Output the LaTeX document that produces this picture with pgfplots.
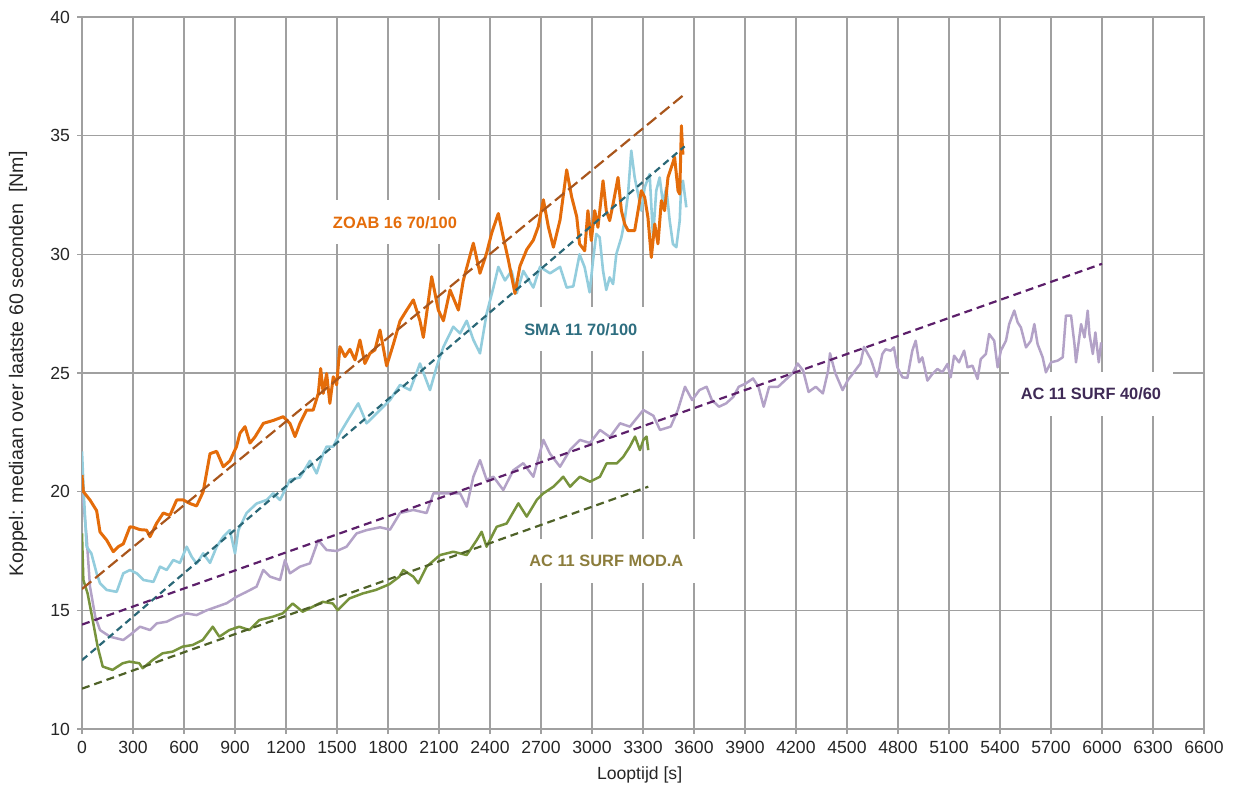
\documentclass[border=0pt]{standalone}
\usepackage{pgfplots}
\pgfplotsset{compat=1.18}
\usepackage{fontspec}
\setmainfont{Liberation Sans}
\definecolor{cZ}{HTML}{E46C0A}
\definecolor{cS}{HTML}{93CDDD}
\definecolor{cP}{HTML}{B3A2C7}
\definecolor{cG}{HTML}{77933C}
\definecolor{tZ}{HTML}{A9561C}
\definecolor{tS}{HTML}{2A6776}
\definecolor{tP}{HTML}{5C1F6A}
\definecolor{tG}{HTML}{4F6228}
\definecolor{lS}{HTML}{2E6E80}
\definecolor{lP}{HTML}{3F2A56}
\definecolor{lG}{HTML}{8C7D3C}
\definecolor{gridc}{HTML}{A0A0A0}
\begin{document}
\begin{tikzpicture}
\begin{axis}[
  scale only axis, width=561pt, height=356pt,
  xmin=0, xmax=6600, ymin=10, ymax=40,
  xtick={0,300,...,6600}, ytick={10,15,...,40},
  grid=major,
  major grid style={gridc, line width=0.6pt},
  axis line style={gridc, line width=0.6pt},
  tick style={gridc, line width=0.6pt},
  tick align=outside, major tick length=2.5pt,
  xtick pos=bottom, ytick pos=left,
  /pgf/number format/assume math mode=true,
  /pgf/number format/1000 sep={},
  ticklabel style={font=\fontsize{8.8}{10}\selectfont, text=black!85},
  xlabel={Looptijd [s]},
  ylabel={Koppel: mediaan over laatste 60 seconden\ \ [Nm]},
  xlabel style={font=\fontsize{8.8}{10}\selectfont, text=black!85, at={(axis description cs:0.497,-0.0646)}, anchor=center},
  ylabel style={font=\fontsize{9.8}{11}\selectfont, text=black!85, at={(axis description cs:-0.057,0.5126)}, anchor=center, rotate=0},
  every axis plot/.append style={line join=round},
]
% label boxes
\node[fill=white, inner xsep=6pt, inner ysep=8pt, text height=6pt, text depth=0pt, text=cZ, font=\fontsize{8.2}{10}\selectfont\bfseries] at (axis cs:1841,31.35) {ZOAB 16 70/100};
\node[fill=white, inner xsep=6pt, inner ysep=8pt, text height=6pt, text depth=0pt, text=lS, font=\fontsize{8.2}{10}\selectfont\bfseries] at (axis cs:2934,26.84) {SMA 11 70/100};
\node[fill=white, inner xsep=6pt, inner ysep=8pt, text height=6pt, text depth=0pt, text=lP, font=\fontsize{8.2}{10}\selectfont\bfseries] at (axis cs:5935,24.12) {AC 11 SURF 40/60};
\node[fill=white, inner xsep=6pt, inner ysep=8pt, text height=6pt, text depth=0pt, text=lG, font=\fontsize{8.2}{10}\selectfont\bfseries] at (axis cs:3084,17.08) {AC 11 SURF MOD.A};
% AC 11 SURF 40/60
\addplot[cP, line width=1.25pt] coordinates {
(0,20.2)(27,18.1)(47,16.0)(78,14.73)(106,14.17)(165,13.89)(243,13.75)(282,13.96)(341,14.31)(400,14.17)(439,14.45)(498,14.52)(557,14.73)(616,14.87)(674,14.8)(733,15.0)(792,15.15)(851,15.3)(909,15.57)(968,15.78)(1027,16.0)(1066,16.7)(1106,16.42)(1165,16.28)(1194,17.12)(1223,16.56)(1282,16.84)(1341,16.98)(1390,17.96)(1439,17.54)(1498,17.5)(1556,17.68)(1615,18.24)(1674,18.38)(1753,18.5)(1812,18.4)(1871,19.1)(1949,19.23)(2027,19.1)(2067,19.93)(2145,19.93)(2224,19.93)(2263,19.37)(2302,20.63)(2341,21.33)(2380,20.5)(2420,20.63)(2478,20.07)(2537,20.9)(2596,21.2)(2655,20.63)(2714,22.18)(2753,21.6)(2812,21.05)(2871,21.76)(2929,22.18)(2988,22.05)(3047,22.6)(3106,22.3)(3165,22.88)(3223,22.74)(3302,23.44)(3361,23.2)(3400,22.6)(3463,22.74)(3505,23.44)(3547,24.42)(3589,23.86)(3632,24.28)(3674,24.42)(3705,23.86)(3747,23.58)(3789,23.72)(3832,24.0)(3863,24.42)(3905,24.56)(3947,24.77)(3979,24.42)(4010,23.58)(4042,24.42)(4095,24.42)(4137,24.7)(4179,24.98)(4210,25.4)(4242,25.1)(4274,24.2)(4316,24.42)(4358,24.14)(4389,25.1)(4400,25.83)(4431,25.0)(4474,24.28)(4505,24.7)(4537,25.0)(4579,25.4)(4600,26.1)(4642,25.55)(4674,24.84)
(4688,25.1)(4708,25.8)(4727,26.0)(4757,25.94)(4776,26.08)(4796,25.24)(4826,24.82)(4855,24.79)(4884,25.94)(4904,26.36)(4924,25.45)(4943,25.66)(4973,24.68)(5002,24.96)(5032,25.17)(5061,25.03)(5091,25.38)(5110,24.82)(5130,25.73)(5159,25.45)(5189,25.94)(5209,25.24)(5238,25.31)(5268,24.75)(5287,25.59)(5317,25.8)(5336,26.64)(5366,26.36)(5386,25.24)(5405,25.94)(5435,26.36)(5454,27.06)(5484,27.63)(5504,27.13)(5523,26.92)(5553,26.08)(5582,26.36)(5602,27.06)(5621,26.22)(5651,25.66)(5670,25.03)(5700,25.45)(5739,25.52)(5769,25.66)(5788,27.42)(5818,27.42)(5838,26.22)(5847,25.45)(5877,27.06)(5897,26.5)(5916,27.63)(5926,26.64)(5946,25.8)(5961,26.71)(5981,25.45)(5995,26.29)
};
% AC 11 SURF MOD.A
\addplot[cG, line width=1.25pt] coordinates {
(0,18.24)(8,16.28)(33,15.71)(63,14.59)(92,13.47)(122,12.63)(180,12.49)(239,12.77)(278,12.84)(337,12.77)(357,12.56)(416,12.91)(474,13.19)(533,13.26)(592,13.47)(651,13.54)(710,13.75)(769,14.31)(808,13.89)(867,14.17)(925,14.31)(984,14.17)(1043,14.59)(1122,14.73)(1180,14.87)(1239,15.29)(1298,14.94)(1357,15.15)(1416,15.36)(1475,15.29)(1504,15.01)(1573,15.5)(1651,15.71)(1729,15.86)(1808,16.1)(1867,16.42)(1890,16.7)(1949,16.42)(1978,16.14)(2027,16.84)(2106,17.33)(2184,17.47)(2263,17.33)(2322,17.96)(2351,18.31)(2380,17.68)(2439,18.52)(2498,18.66)(2567,19.51)(2616,18.95)(2675,19.65)(2714,19.93)(2773,20.21)(2831,20.63)(2871,20.21)(2929,20.63)(2988,20.42)(3047,20.63)(3086,21.19)(3145,21.19)(3184,21.47)(3223,21.9)(3253,22.32)(3282,21.75)(3302,22.18)(3321,22.32)(3331,21.75)
};
% SMA 11 70/100
\addplot[cS, line width=1.3pt] coordinates {
(0,21.7)(10,20.0)(27,17.68)(55,17.4)(86,16.56)(106,16.14)(145,15.86)(204,15.78)(243,16.56)(282,16.7)(322,16.56)(361,16.28)(420,16.2)(459,16.84)(498,16.7)(537,17.12)(576,17.0)(616,17.68)(645,17.26)(674,16.97)(713,17.4)(753,17.0)(792,17.68)(831,18.1)(870,18.38)(900,17.4)(920,18.38)(968,19.1)(1027,19.5)(1086,19.65)(1125,19.93)(1165,19.65)(1223,20.5)(1282,20.6)(1341,21.3)(1380,20.77)(1419,21.6)(1439,21.9)(1478,21.9)(1517,22.46)(1576,23.16)(1625,23.72)(1674,22.88)(1753,23.44)(1812,23.86)(1871,24.5)(1930,24.28)(1988,25.4)(2047,24.28)(2086,25.26)(2126,26.1)(2184,26.95)(2224,26.67)(2263,27.2)(2302,26.4)(2341,25.83)(2380,27.5)(2420,28.6)(2449,29.47)(2488,28.9)(2527,29.3)(2557,28.36)(2596,29.3)(2655,28.6)(2694,29.47)(2753,29.2)(2812,29.47)(2851,28.6)(2890,28.65)
(2927,30.0)(2957,29.45)(2986,28.4)(3006,29.73)(3025,30.86)(3045,30.72)(3065,29.31)(3084,28.5)(3104,29.03)(3124,28.75)(3143,30.01)(3173,30.72)(3192,31.42)(3212,32.54)(3231,34.37)(3251,33.24)(3271,32.54)(3290,31.84)(3310,32.82)(3339,33.38)(3359,30.72)(3378,32.68)(3398,33.24)(3418,32.12)(3437,32.82)(3457,31.42)(3476,30.44)(3496,30.3)(3516,31.42)(3525,32.96)(3535,33.1)(3555,31.98)
};
% ZOAB 16 70/100
\addplot[cZ, line width=1.5pt] coordinates {
(0,20.7)(8,20.0)(47,19.65)(86,19.2)(106,18.3)(145,17.96)(184,17.47)(213,17.68)(243,17.8)(282,18.52)(302,18.5)(341,18.4)(380,18.38)(400,18.1)(439,18.67)(478,19.1)(517,19.0)(557,19.65)(596,19.65)(635,19.5)(674,19.4)(713,20.0)(753,21.6)(792,21.7)(831,21.05)(870,21.3)(909,21.9)(929,22.46)(959,22.74)(988,22.05)(1017,22.3)(1067,22.88)(1125,23.0)(1184,23.16)(1223,22.88)(1253,22.32)(1282,22.88)(1321,23.44)(1360,23.44)(1390,24.14)(1404,25.19)(1419,24.14)(1439,24.98)(1458,23.72)(1478,24.84)(1498,24.5)(1517,26.11)(1547,25.69)(1576,26.0)(1606,25.55)(1635,26.39)(1664,25.4)(1694,25.83)(1723,25.97)(1753,26.81)(1792,25.3)(1831,26.2)(1871,27.2)(1910,27.65)(1949,28.08)(1988,27.2)(2008,26.5)(2057,29.06)(2096,27.65)(2126,27.2)(2165,28.5)(2214,27.65)(2243,28.9)(2302,30.47)(2341,29.2)(2380,30.05)(2410,30.9)(2449,31.72)(2478,30.73)(2508,29.76)(2547,28.35)(2576,29.5)(2616,30.2)(2655,30.6)(2684,31.17)(2714,32.3)(2743,31.17)(2773,30.3)(2812,31.45)(2851,33.56)(2880,32.43)(2910,31.59)
(2927,30.44)(2957,30.15)(2976,31.84)(2996,30.58)(3016,31.84)(3035,31.14)(3065,33.1)(3084,31.84)(3104,31.42)(3124,32.12)(3153,33.24)(3173,31.84)(3192,31.28)(3212,31.0)(3251,31.0)(3271,31.84)(3290,32.68)(3310,32.4)(3329,31.56)(3349,29.87)(3369,31.28)(3388,30.44)(3408,32.26)(3427,31.84)(3447,33.24)(3467,33.67)(3486,34.09)(3506,32.68)(3516,32.54)(3526,35.42)(3531,34.65)(3535,34.2)
};
% trend lines
\addplot[tZ, line width=1.1pt, dash pattern=on 6pt off 2.5pt] coordinates {(0,15.9)(3545,36.75)};
\addplot[tS, line width=1.1pt, dash pattern=on 3.5pt off 2.2pt] coordinates {(0,12.9)(3545,34.55)};
\addplot[tP, line width=1.1pt, dash pattern=on 4pt off 2.5pt] coordinates {(0,14.4)(6000,29.6)};
\addplot[tG, line width=1.1pt, dash pattern=on 4pt off 2.5pt] coordinates {(0,11.7)(3331,20.21)};
\end{axis}
\pgfresetboundingbox
\path[use as bounding box] (-41pt,-29.5pt) rectangle (577pt,364.5pt);
\end{tikzpicture}
\end{document}
